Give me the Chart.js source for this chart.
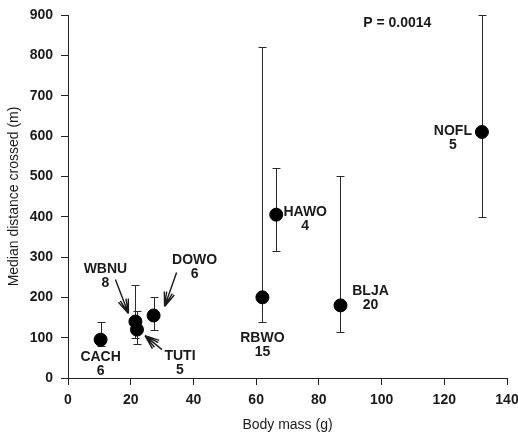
<!DOCTYPE html>
<html>
<head>
<meta charset="utf-8">
<script src="https://cdn.jsdelivr.net/npm/chart.js@4"></script>
<style>
  html, body { margin: 0; padding: 0; background: #fff; }
  #wrap { width: 518px; height: 436px; }
</style>
</head>
<body>
<div id="wrap"><canvas id="chart"></canvas></div>
<script>
// species codes and sample sizes
const birds = ['CACH', 'WBNU', 'TUTI', 'DOWO', 'RBWO', 'HAWO', 'BLJA', 'NOFL'];
const sampleSizes = ['6', '8', '5', '6', '15', '4', '20', '5'];
// body mass (g) and median distance crossed (m) with range
const bodyMass = [10.4, 21.5, 22, 27.3, 62, 66.4, 86.9, 132];
const medianDist = [95, 140, 120, 155, 200, 405, 180, 610];
const lowDist = [80, 100, 85, 120, 140, 315, 115, 400];
const highDist = [140, 230, 165, 200, 820, 520, 500, 900];
const pText = 'P = 0.0014';

// label placement, pixel offset from the point (centre of text)
const labelOffsets = {
    CACH: [0, 17], WBNU: [-30, -52], TUTI: [43, 27], DOWO: [41, -55],
    RBWO: [0, 41], HAWO: [29, -3], BLJA: [30, -14], NOFL: [-29, -1]
};
// arrows: tip and tail offsets from the point
const arrows = {
    WBNU: { tip: [-7, -8], tail: [-20, -42] },
    TUTI: { tip: [8, 6], tail: [25, 20] },
    DOWO: { tip: [11, -9], tail: [23, -43] }
};

const ink = '#1a1a1a';
const labelFont = 'bold 14px "Liberation Sans", Arial, sans-serif';

const errorBars = {
    id: 'errorBars',
    beforeDatasetsDraw(chart) {
        const { ctx, scales: { x, y } } = chart;
        ctx.save();
        ctx.strokeStyle = '#2a2a2a';
        ctx.lineWidth = 1;
        bodyMass.forEach((m, i) => {
            const px = Math.round(x.getPixelForValue(m)) + 0.5;
            const top = Math.round(y.getPixelForValue(highDist[i])) + 0.5;
            const bot = Math.round(y.getPixelForValue(lowDist[i])) + 0.5;
            ctx.beginPath();
            ctx.moveTo(px, top); ctx.lineTo(px, bot);
            ctx.moveTo(px - 4, top); ctx.lineTo(px + 4, top);
            ctx.moveTo(px - 4, bot); ctx.lineTo(px + 4, bot);
            ctx.stroke();
        });
        ctx.restore();
    }
};

function drawArrow(ctx, x1, y1, x2, y2) {
    const a = Math.atan2(y2 - y1, x2 - x1);
    ctx.beginPath();
    ctx.moveTo(x1, y1); ctx.lineTo(x2, y2);
    [0.2, 0.36].forEach(s => {
        ctx.moveTo(x2, y2);
        ctx.lineTo(x2 - 15 * Math.cos(a - s), y2 - 15 * Math.sin(a - s));
        ctx.moveTo(x2, y2);
        ctx.lineTo(x2 - 15 * Math.cos(a + s), y2 - 15 * Math.sin(a + s));
    });
    ctx.stroke();
}

const pointLabels = {
    id: 'pointLabels',
    afterDraw(chart) {
        const { ctx, scales: { x, y } } = chart;
        ctx.save();
        ctx.fillStyle = ink;
        ctx.font = labelFont;
        ctx.textAlign = 'center';
        ctx.textBaseline = 'middle';
        birds.forEach((b, i) => {
            const px = x.getPixelForValue(bodyMass[i]);
            const py = y.getPixelForValue(medianDist[i]);
            const [dx, dy] = labelOffsets[b];
            ctx.fillText(b, px + dx, py + dy);
            ctx.fillText(sampleSizes[i], px + dx, py + dy + 14);
            if (arrows[b]) {
                const ar = arrows[b];
                ctx.strokeStyle = ink;
                ctx.lineWidth = 1.4;
                drawArrow(ctx, px + ar.tail[0], py + ar.tail[1], px + ar.tip[0], py + ar.tip[1]);
            }
        });
        ctx.fillText(pText, x.getPixelForValue(105), y.getPixelForValue(880));
        ctx.restore();
    }
};

const axisFont = { family: '"Liberation Sans", Arial, sans-serif', size: 14 };

new Chart(document.getElementById('chart'), {
    type: 'scatter',
    data: {
        datasets: [{
            data: bodyMass.map((m, i) => ({ x: m, y: medianDist[i] })),
            backgroundColor: '#000',
            borderColor: '#000',
            pointRadius: 6.5,
            pointHoverRadius: 6.5
        }]
    },
    options: {
        responsive: true,
        maintainAspectRatio: false,
        animation: false,
        layout: { padding: { top: 15, right: 11, left: 0, bottom: 0 } },
        plugins: { legend: { display: false }, tooltip: { enabled: false } },
        scales: {
            x: {
                type: 'linear', min: 0, max: 140,
                afterFit(s) { s.height = 58; s.paddingLeft = 0; s.paddingRight = 0; },
                ticks: { stepSize: 20, color: ink, padding: 7, font: { ...axisFont, weight: 'bold' } },
                grid: { drawOnChartArea: false, drawTicks: true, tickLength: 7, color: '#222' },
                border: { display: true, color: '#222' },
                title: { display: true, text: 'Body mass (g)', color: ink, font: axisFont, padding: { top: 4, bottom: 2 } }
            },
            y: {
                min: 0, max: 900,
                afterFit(s) { s.width = 68; s.paddingTop = 0; s.paddingBottom = 0; },
                ticks: { stepSize: 100, color: ink, padding: 8, font: { ...axisFont, weight: 'bold' } },
                grid: { drawOnChartArea: false, drawTicks: true, tickLength: 7, color: '#222' },
                border: { display: true, color: '#222' },
                title: { display: true, text: 'Median distance crossed (m)', color: ink, font: axisFont, padding: { top: 6, bottom: 4 } }
            }
        }
    },
    plugins: [errorBars, pointLabels]
});
</script>
</body>
</html>
